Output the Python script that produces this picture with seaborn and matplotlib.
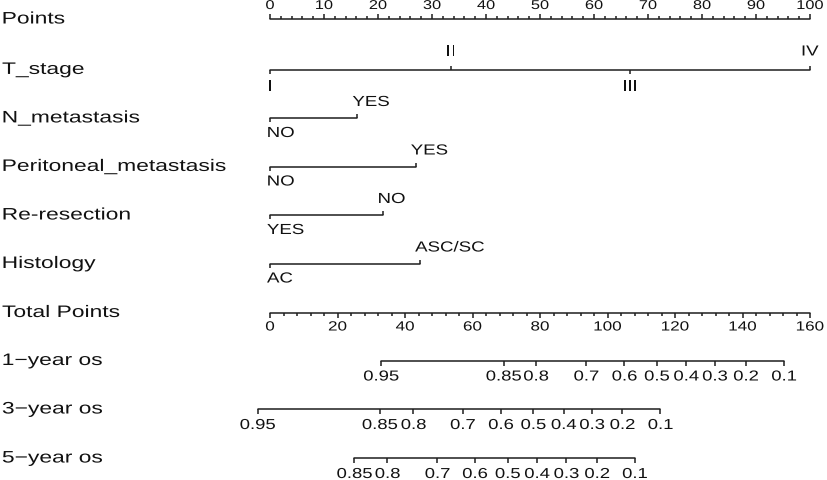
import numpy as np
import pandas as pd
import matplotlib
matplotlib.use("Agg")
import matplotlib.pyplot as plt
import seaborn as sns
from matplotlib.patheffects import AbstractPathEffect
from matplotlib.transforms import Affine2D

# Row names
row_labels = ["Points", "T_stage", "N_metastasis", "Peritoneal_metastasis",
              "Re-resection", "Histology", "Total Points",
              "1\u2212year os", "3\u2212year os", "5\u2212year os"]

# Predictor levels and their points (0-100 scale)
t_stage_levels = ["I", "II", "III", "IV"]
t_stage_points = [0, 33.5, 66.7, 100]
n_levels = ["NO", "YES"]
n_points = [0, 16.2]
peri_levels = ["NO", "YES"]
peri_points = [0, 27.0]
reres_levels = ["YES", "NO"]
reres_points = [0, 20.9]
hist_levels = ["AC", "ASC/SC"]
hist_points = [0, 27.8]

# Axis scales
points_max = 100
points_major = list(range(0, 101, 10))
points_minor = list(range(0, 101, 2))
total_max = 160
total_major = list(range(0, 161, 20))
total_minor = list(range(0, 161, 4))

# Survival probabilities and their total points
os1_labels = ["0.95", "0.85", "0.8", "0.7", "0.6", "0.5", "0.4", "0.3", "0.2", "0.1"]
os1_total = [32.9, 69.2, 78.8, 93.7, 105.0, 114.6, 123.3, 131.8, 141.0, 152.3]
os3_labels = ["0.95", "0.85", "0.8", "0.7", "0.6", "0.5", "0.4", "0.3", "0.2", "0.1"]
os3_total = [-3.7, 32.5, 42.5, 57.1, 68.4, 78.0, 87.0, 95.4, 104.4, 115.7]
os5_labels = ["0.85", "0.8", "0.7", "0.6", "0.5", "0.4", "0.3", "0.2", "0.1"]
os5_total = [25.0, 34.8, 49.6, 60.7, 70.4, 79.1, 87.8, 96.9, 108.1]


class StretchX(AbstractPathEffect):
    """draw text a bit wider than the font, like the stretched original"""
    def __init__(self, sx, anchor="center"):
        super().__init__()
        self.sx = sx
        self.anchor = anchor

    def draw_path(self, renderer, gc, tpath, affine, rgbFace=None):
        ext = tpath.get_extents()
        cx = ext.x0 if self.anchor == "left" else (ext.x0 + ext.x1) / 2
        st = Affine2D().translate(-cx, 0).scale(self.sx, 1).translate(cx, 0)
        renderer.draw_path(gc, tpath, st + affine, rgbFace)


SX = 1.28
sns.set_theme(style="white")
plt.rcParams['font.family'] = ['Liberation Sans', 'DejaVu Sans']

fig = plt.figure(figsize=(8.27, 4.8), dpi=100)
ax = fig.add_axes([0, 0, 1, 1])

LC = "#1e1e1e"
LW = 1.1
PX = 1 / 5.4  # one pixel in points units
row_y = [19, 69.5, 118, 166.5, 215, 263.5, 312.5, 360.5, 409, 458]


def label(x, y, s, size, anchor="center", sx=SX):
    ax.text(x, y, s, fontsize=size, color="#111111",
            ha="left" if anchor == "left" else "center", va="center",
            path_effects=[StretchX(sx, anchor)])


def tick(x, y, length):
    ax.plot([x, x], [y, y + length], color=LC, lw=LW, solid_capstyle="butt")


# main horizontal lines through seaborn
to_pts = points_max / total_max
segs = [
    (0, 0, points_max),
    (1, min(t_stage_points), max(t_stage_points)),
    (2, min(n_points), max(n_points)),
    (3, min(peri_points), max(peri_points)),
    (4, min(reres_points), max(reres_points)),
    (5, min(hist_points), max(hist_points)),
    (6, 0, total_max * to_pts),
    (7, min(os1_total) * to_pts, max(os1_total) * to_pts),
    (8, min(os3_total) * to_pts, max(os3_total) * to_pts),
    (9, min(os5_total) * to_pts, max(os5_total) * to_pts),
]
df = pd.DataFrame([{"row": r, "x": x, "y": row_y[r]} for r, a, b in segs for x in (a, b)])
sns.lineplot(data=df, x="x", y="y", units="row", estimator=None, color=LC,
             lw=LW, ax=ax, legend=False)
ax.set_xlim(-50, (827 - 270) / 5.4)
ax.set_ylim(480, 0)
ax.set_axis_off()

# row names
for y, name in zip(row_y, row_labels):
    label(-49.6, y, name, 12, anchor="left", sx=1.37)

# Points axis (ticks up, labels above)
y0 = row_y[0]
for v in points_minor:
    tick(v, y0, -3 if v not in points_major else -5)
for v in points_major:
    label(v, y0 - 13, str(v), 9.2)

# T_stage: labels alternate below / above
y1 = row_y[1]
for i, (lev, p) in enumerate(zip(t_stage_levels, t_stage_points)):
    up = i % 2 == 1
    tick(p, y1, -4 if up else 4)
    label(p, y1 - 18 if up else y1 + 17, lev, 10.5)

# binary predictors: first level below, second above, text starts at the tick
for r, levs, pts in [(2, n_levels, n_points), (3, peri_levels, peri_points),
                     (4, reres_levels, reres_points), (5, hist_levels, hist_points)]:
    y = row_y[r]
    tick(pts[0], y, 4)
    tick(pts[1], y, -4)
    label(pts[0] - 3 * PX, y + 15, levs[0], 10.5, anchor="left")
    label(pts[1] - 5 * PX, y - 16, levs[1], 10.5, anchor="left")

# Total points axis (ticks down, labels below)
y6 = row_y[6]
for v in total_minor:
    tick(v * to_pts, y6, 3 if v not in total_major else 5)
for v in total_major:
    label(v * to_pts, y6 + 15, str(v), 9.6)

# survival axes
for r, labs, tot in [(7, os1_labels, os1_total), (8, os3_labels, os3_total),
                     (9, os5_labels, os5_total)]:
    y = row_y[r]
    for s, t in zip(labs, tot):
        tick(t * to_pts, y, 5)
        label(t * to_pts, y + 16, s, 10.4)

fig.savefig("out.png", dpi=100, facecolor="white")
